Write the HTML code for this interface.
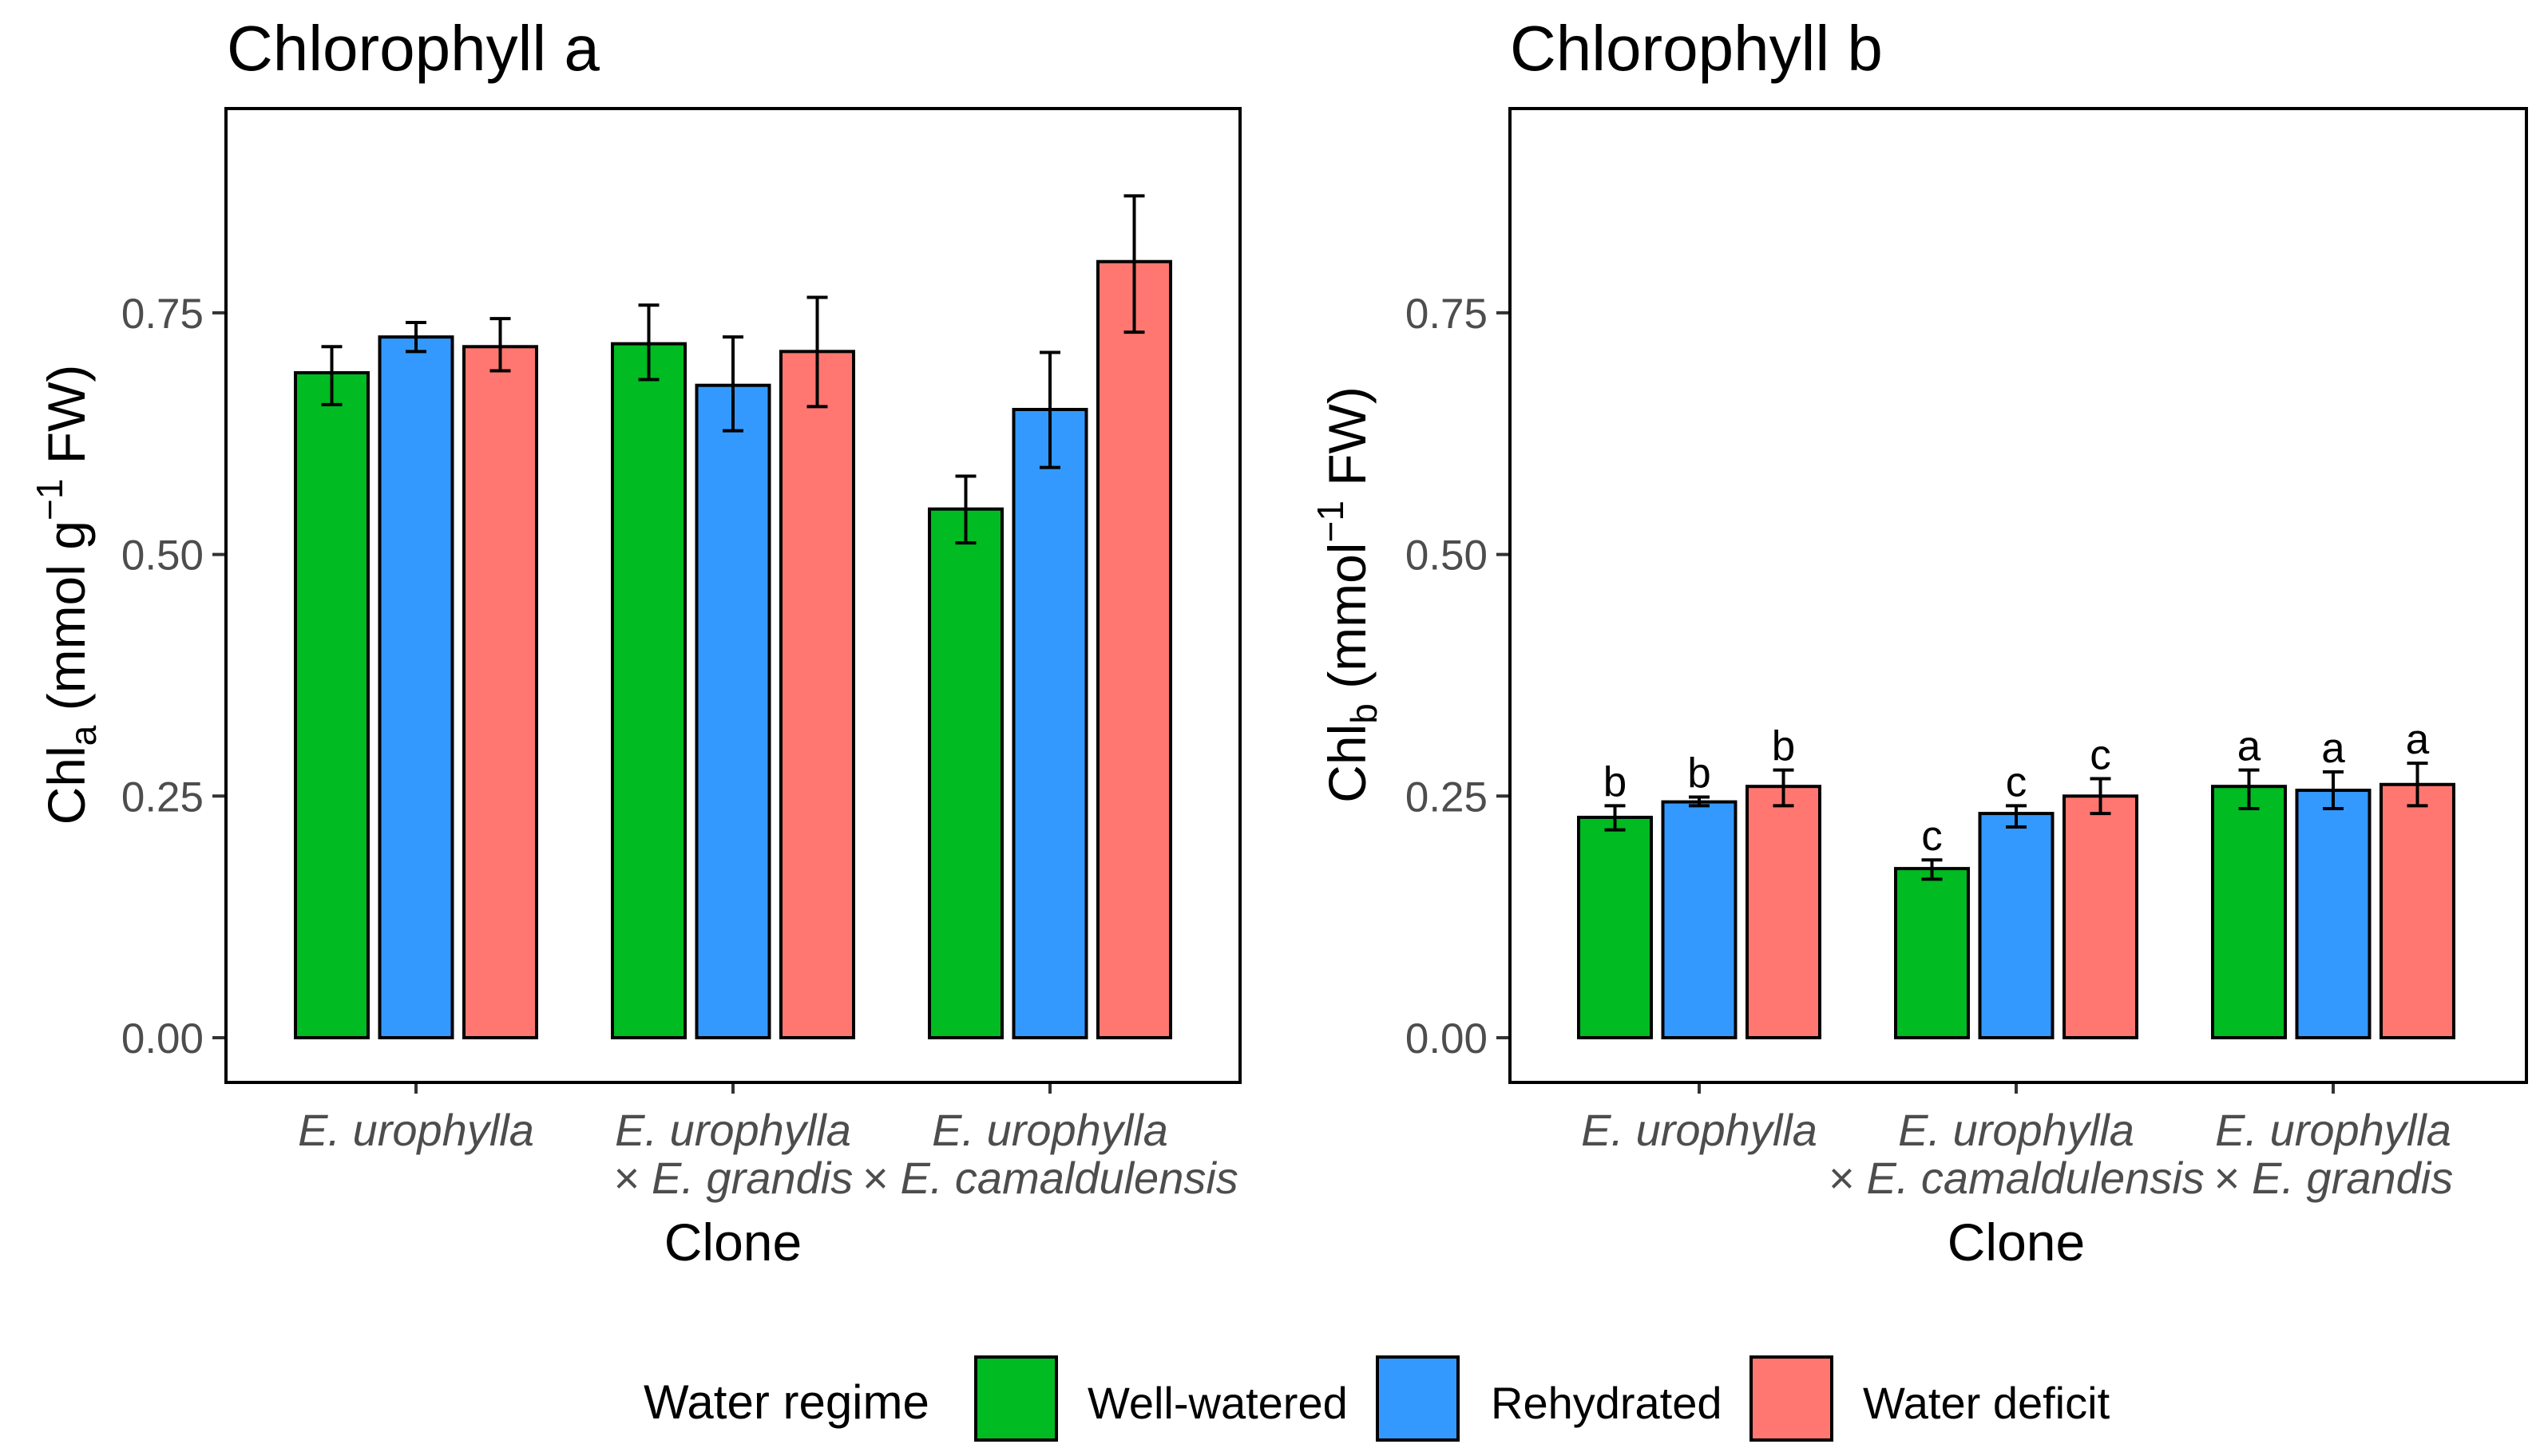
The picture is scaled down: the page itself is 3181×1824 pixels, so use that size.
<!DOCTYPE html>
<html><head><meta charset="utf-8"><style>
html,body{margin:0;padding:0;background:#fff}
svg{display:block;font-family:"Liberation Sans",Arial,sans-serif}
</style></head><body>
<svg id="chart" xmlns="http://www.w3.org/2000/svg" width="3181" height="1824" viewBox="0 0 3181 1824">
<rect width="3181" height="1824" fill="#fff"/>
<text x="284" y="88" font-size="80" fill="#000">Chlorophyll a</text>
<text x="1891" y="88" font-size="80" fill="#000">Chlorophyll b</text>
<text transform="translate(106,745) rotate(-90)" text-anchor="middle" font-size="66" fill="#000">Chl<tspan font-size="46" dy="14">a</tspan><tspan dy="-14"> (mmol g</tspan><tspan font-size="46" dy="-28">−1</tspan><tspan dy="28"> FW)</tspan></text>
<text transform="translate(1710,745) rotate(-90)" text-anchor="middle" font-size="66" fill="#000">Chl<tspan font-size="46" dy="14">b</tspan><tspan dy="-14"> (mmol</tspan><tspan font-size="46" dy="-28">−1</tspan><tspan dy="28"> FW)</tspan></text>
<text x="918" y="1579" text-anchor="middle" font-size="66" fill="#000">Clone</text>
<text x="2525" y="1579" text-anchor="middle" font-size="66" fill="#000">Clone</text>
<g>
<text x="806" y="1777" font-size="60" fill="#000">Water regime</text>
<rect x="1222" y="1700" width="101" height="104" fill="#00BB22" stroke="#000" stroke-width="4"/>
<text x="1362" y="1777" font-size="56" fill="#000">Well-watered</text>
<rect x="1725" y="1700" width="101" height="104" fill="#3399FF" stroke="#000" stroke-width="4"/>
<text x="1867" y="1777" font-size="56" fill="#000">Rehydrated</text>
<text x="2333" y="1777" font-size="56" fill="#000">Water deficit</text>
<rect x="2193" y="1700" width="101" height="104" fill="#FF7770" stroke="#000" stroke-width="4"/>
</g>
</svg>
<script>
const seriesNames = ["Well-watered","Rehydrated","Water deficit"];
const seriesColors = ["#00BB22","#3399FF","#FF7770"];
const yTicks = [0, 0.25, 0.5, 0.75];
const yTickLabels = ["0.00","0.25","0.50","0.75"];
const catsA1 = ["E. urophylla","E. urophylla","E. urophylla"];
const catsA2 = ["","× E. grandis","× E. camaldulensis"];
const meanA_ww = [0.688, 0.718, 0.547];
const meanA_rh = [0.725, 0.675, 0.650];
const meanA_wd = [0.715, 0.710, 0.803];
const loA_ww = [0.655, 0.681, 0.512];
const hiA_ww = [0.715, 0.758, 0.581];
const loA_rh = [0.710, 0.628, 0.590];
const hiA_rh = [0.740, 0.725, 0.709];
const loA_wd = [0.690, 0.653, 0.730];
const hiA_wd = [0.744, 0.766, 0.871];
const catsB1 = ["E. urophylla","E. urophylla","E. urophylla"];
const catsB2 = ["","× E. camaldulensis","× E. grandis"];
const meanB_ww = [0.228, 0.175, 0.260];
const meanB_rh = [0.244, 0.232, 0.256];
const meanB_wd = [0.260, 0.250, 0.262];
const loB_ww = [0.215, 0.164, 0.237];
const hiB_ww = [0.240, 0.184, 0.277];
const loB_rh = [0.240, 0.218, 0.237];
const hiB_rh = [0.249, 0.240, 0.275];
const loB_wd = [0.240, 0.232, 0.240];
const hiB_wd = [0.277, 0.268, 0.284];
const lettersB_ww = ["b","c","a"];
const lettersB_rh = ["b","c","a"];
const lettersB_wd = ["b","c","a"];

const NS = "http://www.w3.org/2000/svg";
const svg = document.getElementById("chart");
function mk(tag, attrs, parent){
  const e = document.createElementNS(NS, tag);
  for (const k in attrs) e.setAttribute(k, attrs[k]);
  (parent||svg).appendChild(e);
  return e;
}
function drawPanel(p){
  const y = v => 1300 - v * (302.7/0.25);
  const x = i => p.x0 + i * p.step;
  const g = mk("g", {});
  
  
  yTicks.forEach((t, i) => {
    const tl = mk("line", {x1: p.left-17, x2: p.left, y1: y(t), y2: y(t), stroke: "#333", "stroke-width": 4}, g);
    
    
    const tx = mk("text", {x: p.left-28, y: y(t)+19, "text-anchor": "end", "font-size": 53, fill: "#4d4d4d"}, g);
    tx.textContent = yTickLabels[i];
    
    
  });
  const sets = [[p.m[0],p.lo[0],p.hi[0]],[p.m[1],p.lo[1],p.hi[1]],[p.m[2],p.lo[2],p.hi[2]]];
  const bw = 91, bstep = 105.5;
  p.cats1.forEach((c, ci) => {
    const cx = x(ci);
    const tk = mk("line", {x1: cx, x2: cx, y1: 1356, y2: 1370, stroke: "#333", "stroke-width": 4}, g);
    
    
    const l1 = mk("text", {x: cx, y: 1435, "text-anchor": "middle", "font-size": 56, "font-style": "italic", fill: "#4d4d4d"}, g);
    l1.textContent = c;
    
    
    if (p.cats2[ci]) {
      const l2 = mk("text", {x: cx, y: 1495, "text-anchor": "middle", "font-size": 56, "font-style": "italic", fill: "#4d4d4d"}, g);
      l2.textContent = p.cats2[ci];
      
      
    }
    sets.forEach((s, si) => {
      const bx = cx + (si-1)*bstep;
      const v = s[0][ci];
      const r = mk("rect", {x: bx-bw/2, y: y(v), width: bw, height: y(0)-y(v), fill: seriesColors[si], stroke: "#000", "stroke-width": 4}, g);
      
      
      const eg = mk("g", {stroke: "#000", "stroke-width": 4}, g);
      
      
      const lo = y(s[1][ci]), hi = y(s[2][ci]);
      mk("line", {x1: bx, x2: bx, y1: lo, y2: hi}, eg);
      mk("line", {x1: bx-13, x2: bx+13, y1: lo, y2: lo}, eg);
      mk("line", {x1: bx-13, x2: bx+13, y1: hi, y2: hi}, eg);
      if (p.letters) {
        const lt = mk("text", {x: bx, y: hi-12, "text-anchor": "middle", "font-size": 53, fill: "#000"}, g);
        lt.textContent = p.letters[si][ci];
        
        
      }
    });
  });
  const fr = mk("rect", {x: p.left, y: 136, width: p.right-p.left, height: 1220, fill: "none", stroke: "#000", "stroke-width": 4}, g);
  
  
}
drawPanel({name: "panel-chlorophyll-a", left: 283, right: 1553, x0: 521, step: 397,
  m: [meanA_ww, meanA_rh, meanA_wd], lo: [loA_ww, loA_rh, loA_wd], hi: [hiA_ww, hiA_rh, hiA_wd],
  cats1: catsA1, cats2: catsA2, letters: null});
drawPanel({name: "panel-chlorophyll-b", left: 1891, right: 3164, x0: 2128, step: 397,
  m: [meanB_ww, meanB_rh, meanB_wd], lo: [loB_ww, loB_rh, loB_wd], hi: [hiB_ww, hiB_rh, hiB_wd],
  cats1: catsB1, cats2: catsB2, letters: [lettersB_ww, lettersB_rh, lettersB_wd]});
</script>
</body></html>
